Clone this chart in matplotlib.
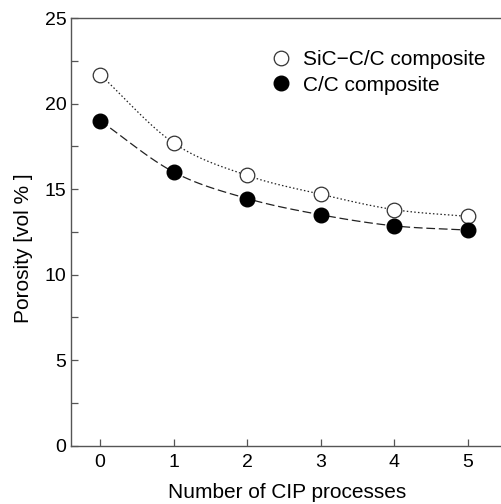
import numpy as np
import matplotlib
matplotlib.use("Agg")
import matplotlib.pyplot as plt
from matplotlib.ticker import MultipleLocator

plt.rcParams['font.family'] = ['Liberation Sans', 'DejaVu Sans']

cip = [0, 1, 2, 3, 4, 5]
sic_cc = [21.7, 17.7, 15.8, 14.7, 13.8, 13.4]
cc = [19.0, 16.0, 14.45, 13.5, 12.85, 12.6]
labels = ["SiC\u2212C/C composite", "C/C composite"]


def smooth(x, y, n=20):
    x = np.asarray(x, float)
    y = np.asarray(y, float)
    # Catmull-Rom spline through points
    px = np.concatenate([[2 * x[0] - x[1]], x, [2 * x[-1] - x[-2]]])
    py = np.concatenate([[2 * y[0] - y[1]], y, [2 * y[-1] - y[-2]]])
    xs, ys = [], []
    for i in range(1, len(px) - 2):
        t = np.linspace(0, 1, n, endpoint=False)
        for arr, out in ((px, xs), (py, ys)):
            p0, p1, p2, p3 = arr[i - 1], arr[i], arr[i + 1], arr[i + 2]
            out.extend(0.5 * ((2 * p1) + (-p0 + p2) * t
                              + (2 * p0 - 5 * p1 + 4 * p2 - p3) * t ** 2
                              + (-p0 + 3 * p1 - 3 * p2 + p3) * t ** 3))
    xs.append(x[-1]); ys.append(y[-1])
    return np.array(xs), np.array(ys)


FS = 14
LFS = 15

fig = plt.figure(figsize=(5.01, 5.04), dpi=100)
ax = fig.add_axes([0.141, 0.116, 0.866, 0.848])

sx, sy = smooth(cip, sic_cc)
ax.plot(sx, sy, linestyle=(0, (1.2, 1.8)), color='#222222', lw=0.9)
cx, cy = smooth(cip, cc)
ax.plot(cx, cy, linestyle=(0, (7, 3)), color='#222222', lw=0.9)

ax.plot(cip, sic_cc, 'o', ms=10.5, mfc='white', mec='#333333', mew=0.9,
        linestyle='none', label=labels[0])
ax.plot(cip, cc, 'o', ms=10.5, mfc='black', mec='black',
        linestyle='none', label=labels[1])

ax.set_xlim(-0.4, 5.5)
ax.set_ylim(0, 25)
ax.set_xticks(cip)
ax.yaxis.set_major_locator(MultipleLocator(5))
ax.yaxis.set_minor_locator(MultipleLocator(2.5))
ax.tick_params(direction='in', length=5, width=0.9, color='#555555',
               labelsize=FS)
ax.tick_params(axis='x', pad=6)
ax.tick_params(axis='y', pad=3)
ax.tick_params(which='minor', direction='in', length=5, width=0.9, color='#555555')
for s in ax.spines.values():
    s.set_color('#555555')
    s.set_linewidth(1.0)

ax.set_xlabel("Number of CIP processes", fontsize=LFS, labelpad=9)
ax.set_ylabel("Porosity [vol % ]", fontsize=LFS)
ax.yaxis.set_label_coords(-0.087, 0.461)

ax.legend(loc='upper left', bbox_to_anchor=(0.540, 0.900),
          bbox_transform=fig.transFigure, frameon=False,
          fontsize=LFS, handletextpad=0.58, labelspacing=0.3,
          handlelength=1.0, borderaxespad=0, borderpad=0)

fig.savefig("out.png", dpi=100)
